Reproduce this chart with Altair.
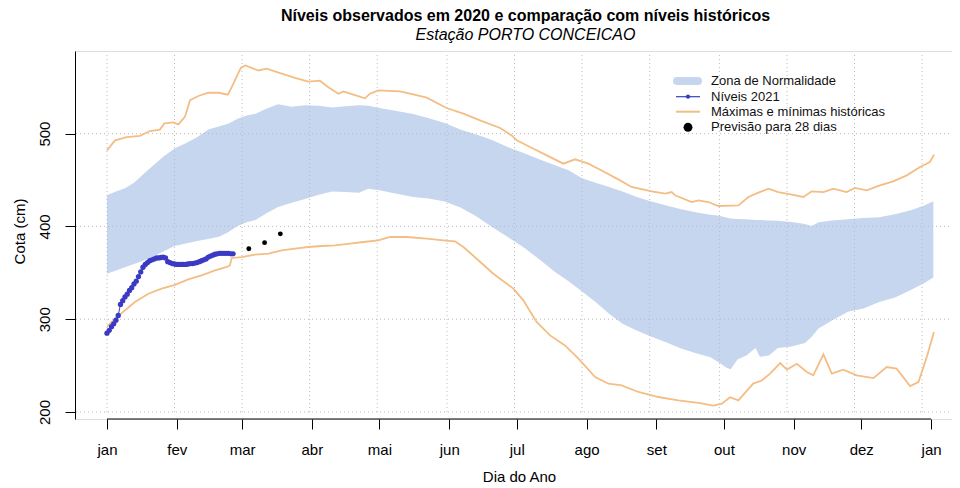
import altair as alt
import pandas as pd

FONT = "Liberation Sans"

# ---------------- data ----------------
month_days = [0, 31, 60, 91, 121, 152, 182, 213, 244, 274, 305, 335, 366]
month_labels = ["jan", "fev", "mar", "abr", "mai", "jun", "jul", "ago", "set", "out", "nov", "dez", "jan"]
grid_days = [0, 30, 60, 90, 120, 151, 181, 211, 241, 272, 302, 332, 362]
grid_levels = [200, 300, 400, 500]
x_axis_span = [0, 366]

band_days = [0, 4, 8, 12, 16, 20, 25, 30, 35, 40, 45, 50, 54, 58, 62, 66, 71, 76, 82, 88,
             94, 100, 106, 112, 116, 121, 128, 136, 143, 150, 157, 164, 171, 178, 185, 192,
             199, 205, 211, 217, 223, 229, 235, 241, 248, 255, 262, 268, 272, 275, 277, 280,
             284, 288, 290, 294, 298, 304, 310, 313, 316, 322, 329, 336, 343, 350, 357, 363, 367]
band_upper = [433.5, 437.5, 441, 447, 456, 464.5, 475, 484, 489.5, 496, 504.5, 508, 511, 516,
              519.5, 521.5, 527, 531.5, 529, 530.5, 530, 528, 529.5, 530.5, 530, 527.6, 524.5,
              521, 516.5, 511.5, 504.5, 499, 493, 485.5, 479, 472.5, 466, 460.5, 452, 447,
              442.5, 437.5, 432, 427.5, 422.7, 418.5, 415, 412.5, 411.5, 409.5, 408.5, 408,
              407.6, 407, 406.8, 406.3, 406, 404.7, 402.5, 400.5, 404.5, 406.5, 407.7, 409,
              410, 413, 417.5, 422.5, 427]
band_lower = [349, 352.5, 356, 359.5, 363, 367, 373, 378.8, 381.5, 384.3, 386.5, 389, 394,
              400.5, 404.5, 407, 414.5, 421, 425.5, 429.5, 434, 437.5, 437, 436.4, 440.5, 439,
              435.5, 431.7, 430, 426.8, 420.5, 411, 399.5, 388.5, 377.5, 364.5, 351, 341, 330,
              318.5, 306, 295, 288, 282, 275.4, 268.5, 263.2, 259, 253, 248, 246, 256.5, 261,
              269, 259.5, 261, 269, 270.5, 274.5, 281, 290, 298.5, 308, 311.5, 318.5, 323.5,
              331.5, 339, 345]

max_days = [0, 3.6, 8.7, 14.6, 19.1, 23.5, 25.5, 29.5, 31.7, 34.6, 36.9, 40.6, 45, 49.5,
            53.7, 55.4, 59.5, 61.5, 65, 67.2, 70.9, 77.6, 83.5, 89.4, 94.6, 98.3, 102.8, 105,
            109.4, 114.6, 116.8, 120.5, 130.1, 136, 142, 150.8, 158.3, 165.7, 174.6, 179.7,
            182, 187.9, 195.3, 202.7, 207.9, 213.8, 218.2, 227.1, 233, 241.9, 247.9, 250.8,
            252.3, 259.7, 262.7, 267.1, 271.5, 280.4, 284.9, 289.3, 293.8, 298.2, 304.1,
            309.3, 313, 318.2, 322.6, 328.5, 332.2, 337.4, 343.3, 349.2, 355.2, 361.1, 365.5,
            367.3]
max_vals = [482, 492.7, 496.3, 497.5, 502.8, 504.3, 511, 512, 510, 518, 536, 540.5, 544, 544,
            542, 550, 571, 573.5, 570, 568, 570, 564.6, 560, 556, 557, 550, 543, 545.5, 542,
            538, 543, 546.6, 545.5, 542.3, 538.7, 527.6, 521.5, 514.3, 506, 498, 492.7, 485.5,
            476.6, 467.6, 472.3, 467.6, 462.2, 450.7, 442.5, 437.8, 435.3, 437, 433.5, 426.3,
            428, 426.3, 422, 422.7, 431.7, 436.4, 440.7, 437, 434.2, 431.7, 437.8, 437, 440.7,
            437, 441.4, 438.8, 444.3, 448.6, 455, 464, 469.4, 477.3]

min_days = [0, 3.6, 8, 12.4, 18.4, 24.3, 30.2, 36.1, 42, 48, 53.2, 54.6, 55.4, 59.8, 65.7,
            71.7, 77.6, 83.5, 89.4, 95.3, 101.3, 107.9, 113.9, 120.5, 125.7, 133.1, 142,
            149.4, 154.6, 158.3, 164.2, 171.6, 180.5, 184.9, 190.8, 196.8, 203.4, 209.4,
            216.8, 222.7, 228.6, 236, 244.9, 253.8, 263.4, 269.3, 273.1, 276.7, 280.4, 287,
            290.8, 294.5, 299, 302, 306.4, 310.8, 313.7, 318.2, 321.9, 327, 333, 340.4, 346.3,
            350.7, 356.7, 360.4, 364.1, 367.3]
min_vals = [292, 300.6, 309.6, 318.5, 327.5, 333, 337, 343, 347.3, 352.7, 356.3, 358, 366,
            367, 369.5, 370.6, 374.2, 376, 377.8, 378.9, 379.6, 381.4, 383.2, 385, 388.6,
            388.6, 386.8, 385, 384, 377.8, 365.2, 349, 333, 320.3, 297, 282.6, 271.8, 257.5,
            237.7, 230.5, 228.7, 221.6, 216.2, 212.6, 209.7, 207, 209, 216, 212.6, 230.6,
            234, 241.4, 252.8, 245.7, 252, 243.1, 239.5, 262.2, 241.4, 245.7, 239.5, 236.6,
            248.5, 246.8, 228, 232.3, 259.3, 286.2]

obs_days = [0, 1, 2, 3, 4, 5, 6, 7, 8, 9, 10, 11, 12, 13, 14, 15, 16, 17, 18, 19, 20, 21,
            22, 23, 24, 25, 26, 27, 28, 29, 30, 31, 32, 33, 34, 35, 36, 37, 38, 39, 40, 41,
            42, 43, 44, 45, 46, 47, 48, 49, 50, 51, 52, 53, 54, 55, 56]
obs_vals = [285, 288, 292, 295, 299, 304, 316, 320, 324, 327, 331, 334, 338, 341, 346, 351,
            356, 359, 361, 363, 364, 365, 366, 366, 366.5, 367, 366, 362, 361, 360, 359.5,
            359, 359, 359, 359, 359, 359.5, 360, 360, 360.5, 361, 362, 363, 364, 365, 367,
            368, 369, 370, 370.5, 371, 371, 371, 371, 371, 370.5, 370.5]

forecast_days = [63, 70, 77]
forecast_vals = [376, 382.5, 392]

legend_labels = ["Zona de Normalidade", "Níveis 2021", "Máximas e mínimas históricas",
                 "Previsão para 28 dias"]

# ---------------- colours ----------------
BAND = "#C6D6EE"
ORANGE = "#F4BD84"
BLUE = "#3A3AC4"
GRID = "#BBBBBB"

# ---------------- scales / axes ----------------
W, H = 877, 368
xscale = alt.Scale(domain=[-14.2, 375.3], nice=False, zero=False)
yscale = alt.Scale(domain=[192.5, 589], nice=False, zero=False)

label_expr = "".join(f"datum.value == {d} ? '{l}' : " for d, l in zip(month_days, month_labels)) + "''"

xaxis = alt.Axis(values=month_days, labelExpr=label_expr, domain=False, grid=False,
                 ticks=True, tickSize=10, tickColor="black", tickWidth=1,
                 labelFont=FONT, labelFontSize=15, labelColor="black",
                 labelBaseline="middle", labelPadding=20, labelFlush=False, labelOverlap=False,
                 title="Dia do Ano", titleFont=FONT, titleFontSize=15, titleFontWeight="normal",
                 titleColor="black", titleX=444, titleY=57, titleAlign="center",
                 titleBaseline="middle")
yaxis = alt.Axis(values=grid_levels, domain=True, domainColor="black", domainWidth=1,
                 grid=False, ticks=True, tickSize=10, tickColor="black", tickWidth=1,
                 labelFont=FONT, labelFontSize=15, labelColor="black", labelAngle=270,
                 labelAlign="center", labelBaseline="bottom", labelPadding=13,
                 title="Cota (cm)", titleFont=FONT, titleFontSize=15, titleFontWeight="normal",
                 titleColor="black", titleAngle=270, titleX=-56, titleY=180,
                 titleAlign="center", titleBaseline="middle")


def X(field):
    return alt.X(field, type="quantitative", scale=xscale, axis=xaxis)


def Y(field):
    return alt.Y(field, type="quantitative", scale=yscale, axis=yaxis)


# ---------------- layers ----------------
df_band = pd.DataFrame({"d": band_days, "up": band_upper, "lo": band_lower})
band = alt.Chart(df_band).mark_area(color=BAND, opacity=1).encode(
    x=X("d"), y=Y("up"), y2="lo")

vgrid = alt.Chart(pd.DataFrame({"d": grid_days})).mark_rule(
    color=GRID, strokeDash=[1, 3], strokeWidth=1).encode(
    x=X("d"), y=alt.datum(200), y2=alt.value(3))

hgrid = alt.Chart(pd.DataFrame({"v": grid_levels})).mark_rule(
    color=GRID, strokeDash=[1, 3], strokeWidth=1).encode(
    y=Y("v"), x=alt.value(1), x2=alt.value(W))

xline = alt.Chart(pd.DataFrame({"a": [x_axis_span[0]], "b": [x_axis_span[1]]})).mark_rule(
    color="black", strokeWidth=1).encode(x=X("a"), x2="b", y=alt.value(H))

maxline = alt.Chart(pd.DataFrame({"d": max_days, "v": max_vals})).mark_line(
    color=ORANGE, strokeWidth=1.8).encode(x=X("d"), y=Y("v"))
minline = alt.Chart(pd.DataFrame({"d": min_days, "v": min_vals})).mark_line(
    color=ORANGE, strokeWidth=1.8).encode(x=X("d"), y=Y("v"))

obs = alt.Chart(pd.DataFrame({"d": obs_days, "v": obs_vals})).mark_line(
    color=BLUE, strokeWidth=1,
    point=alt.OverlayMarkDef(filled=True, size=28, color=BLUE, opacity=1)).encode(
    x=X("d"), y=Y("v"))

fc = alt.Chart(pd.DataFrame({"d": forecast_days, "v": forecast_vals})).mark_circle(
    color="black", size=24, opacity=1).encode(x=X("d"), y=Y("v"))

# ---------------- manual legend ----------------
one = pd.DataFrame({"k": [0]})
leg_y = [30, 45.7, 60.7, 76.3]
legend_layers = []
for lab, ly in zip(legend_labels, leg_y):
    legend_layers.append(
        alt.Chart(pd.DataFrame({"t": [lab]})).mark_text(
            align="left", baseline="middle", font=FONT, fontSize=13, color="#111111").encode(
            text="t:N", x=alt.value(636), y=alt.value(ly)))
legend_layers.append(alt.Chart(one).mark_rule(color=BAND, strokeWidth=8, strokeCap="round").encode(
    x=alt.value(602), x2=alt.value(623), y=alt.value(leg_y[0])))
legend_layers.append(alt.Chart(one).mark_rule(color=BLUE, strokeWidth=1.2).encode(
    x=alt.value(601), x2=alt.value(625), y=alt.value(leg_y[1])))
legend_layers.append(alt.Chart(one).mark_circle(color=BLUE, size=18, opacity=1).encode(
    x=alt.value(613), y=alt.value(leg_y[1])))
legend_layers.append(alt.Chart(one).mark_rule(color=ORANGE, strokeWidth=2).encode(
    x=alt.value(601), x2=alt.value(625), y=alt.value(leg_y[2])))
legend_layers.append(alt.Chart(one).mark_circle(color="black", size=80, opacity=1).encode(
    x=alt.value(613), y=alt.value(leg_y[3])))

chart = alt.layer(band, vgrid, hgrid, xline, maxline, minline, obs, fc, *legend_layers).properties(
    width=W, height=H,
    title=alt.TitleParams(
        text="Níveis observados em 2020 e comparação com níveis históricos",
        subtitle="Estação PORTO CONCEICAO",
        anchor="middle", frame="group", dx=12, offset=8,
        font=FONT, fontSize=16, fontWeight="bold", color="black",
        subtitleFont=FONT, subtitleFontSize=16, subtitleFontStyle="italic",
        subtitleColor="black", subtitlePadding=3),
    padding={"left": 67, "top": 43, "right": 0, "bottom": 68},
    autosize=alt.AutoSizeParams(type="none"),
).configure_view(stroke=None).configure(background="white")

chart.save("out.html", embed_options={"renderer": "svg", "actions": False})
